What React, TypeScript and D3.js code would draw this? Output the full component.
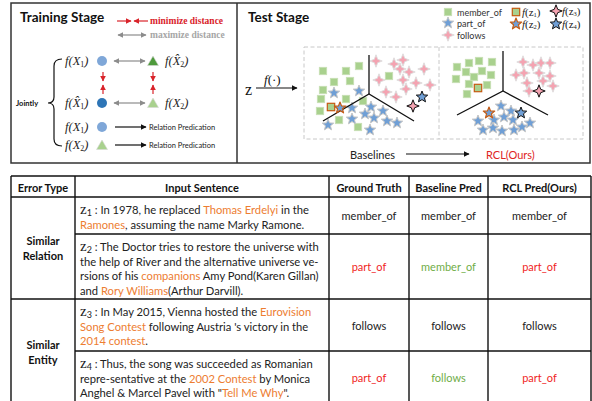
import React from "react";
import * as d3 from "d3";

// ---- embedding points, panel units (origin = top-left of each dashed panel) ----
const baseMember = [[19,24],[42,24],[55,19],[30,35],[46,34],[19,43],[17,52],[42,52],[16,64],[35,73],[54,80],[59,54],[85,29]];
const basePartOf = [[30,46],[55,44],[48,61],[67,60],[79,64],[61,67],[48,72],[70,71],[83,74],[93,76],[24,78],[66,83]];
const baseFollows = [[72,14],[90,17],[99,13],[96,22],[105,25],[120,22],[75,33],[99,33],[112,36],[126,38],[82,45],[102,42],[92,50]];
const baseQueries = [[27,60],[36,61],[109,59],[118,50]]; // z1..z4
const baseAxes = [[65,47],[65,8],[19,74],[110,74]]; // center, top, left, right

const rclMember = [[18,20],[30,16],[40,14],[53,15],[27,25],[43,24],[52,28],[17,32],[35,30],[30,37],[48,38],[28,47]];
const rclPartOf = [[62,59],[72,64],[39,74],[55,73],[65,70],[74,73],[91,76],[44,83],[54,81],[63,84],[75,83],[83,80]];
const rclFollows = [[84,15],[94,18],[102,16],[111,16],[77,28],[85,26],[100,26],[111,29],[88,36],[104,34],[114,39],[90,44]];
const rclQueries = [[39,41],[50,66],[100,44],[82,66]];
const rclAxes = [[64,44],[64,4],[18,68],[109,68]];

// ---- table ----
const headers = ["Error Type", "Input Sentence", "Ground Truth", "Baseline Pred", "RCL Pred(Ours)"];
const errorTypes = [["Similar", "Relation"], ["Similar", "Entity"]];
const groundTruth = ["member_of", "part_of", "follows", "part_of"];
const baselinePred = ["member_of", "member_of", "follows", "follows"];
const rclPred = ["member_of", "part_of", "follows", "part_of"];
// [text, highlighted]
const sentences: [string, number][][][] = [
  [
    [["In 1978, he replaced ", 0], ["Thomas Erdelyi", 1], [" in the", 0]],
    [["Ramones", 1], [", assuming the name Marky Ramone.", 0]],
  ],
  [
    [["The Doctor tries to restore the universe with", 0]],
    [["the help of River and the alternative universe ve-", 0]],
    [["rsions of his ", 0], ["companions", 1], [" Amy Pond(Karen Gillan)", 0]],
    [["and ", 0], ["Rory Williams", 1], ["(Arthur Darvill).", 0]],
  ],
  [
    [["In May 2015, Vienna hosted the ", 0], ["Eurovision", 1]],
    [["Song Contest", 1], [" following Austria 's victory in the", 0]],
    [["2014 contest", 1], [".", 0]],
  ],
  [
    [["Thus, the song was succeeded as Romanian", 0]],
    [["repre-sentative at the ", 0], ["2002 Contest", 1], [" by Monica", 0]],
    [["Anghel & Marcel Pavel with \"", 0], ["Tell Me Why", 1], ["\".", 0]],
  ],
];

const GREEN = "#a9d18e";
const BLUE = "#6f9fd6";
const PINK = "#f4a3b1";
const ORANGE = "#ed7d31";
const RED = "#f01e1e";
const OKGREEN = "#70ad47";
const SANS = "Lato, 'Open Sans', sans-serif";
const SERIF = "'Liberation Serif', 'DejaVu Serif', serif";

function starPath(cx: number, cy: number, R: number, r: number, n: number) {
  const p = d3.path();
  for (let i = 0; i < n * 2; i++) {
    const a = -Math.PI / 2 + (i * Math.PI) / n;
    const rad = i % 2 === 0 ? R : r;
    const x = cx + rad * Math.cos(a), y = cy + rad * Math.sin(a);
    if (i === 0) p.moveTo(x, y); else p.lineTo(x, y);
  }
  p.closePath();
  return p.toString();
}

const Square = ({ x, y, stroke = "#c8e0b6", sw = 0.8 }: any) => (
  <rect x={x - 3.7} y={y - 3.7} width={7.4} height={7.4} fill={GREEN} stroke={stroke} strokeWidth={sw} />
);
const Star5 = ({ x, y, stroke = "#c4c4c4", sw = 1 }: any) => (
  <path d={starPath(x, y, 6, 2.6, 5)} fill={BLUE} stroke={stroke} strokeWidth={sw} strokeLinejoin="round" />
);
const Star4 = ({ x, y, stroke = "#dedede", sw = 1 }: any) => (
  <path d={starPath(x, y, 6.2, 2.4, 4)} fill={PINK} stroke={stroke} strokeWidth={sw} strokeLinejoin="round" />
);

const Scatter = ({ xs, ys, member, partOf, follows, queries, axes }: any) => {
  const [c, t, l, r] = axes;
  const line = d3.line<number[]>().x((d) => xs(d[0])).y((d) => ys(d[1]));
  return (
    <g>
      {member.map((d: number[], i: number) => <Square key={"m" + i} x={xs(d[0])} y={ys(d[1])} />)}
      {follows.map((d: number[], i: number) => <Star4 key={"f" + i} x={xs(d[0])} y={ys(d[1])} />)}
      {partOf.map((d: number[], i: number) => <Star5 key={"p" + i} x={xs(d[0])} y={ys(d[1])} />)}
      <path d={line([t, c]) || ""} stroke="#111" strokeWidth={1.3} fill="none" />
      <path d={line([l, c, r]) || ""} stroke="#111" strokeWidth={1.3} fill="none" />
      <Square x={xs(queries[0][0])} y={ys(queries[0][1])} stroke="#c55a11" sw={1.2} />
      <Star5 x={xs(queries[1][0])} y={ys(queries[1][1])} stroke="#c55a11" sw={1.2} />
      <Star4 x={xs(queries[2][0])} y={ys(queries[2][1])} stroke="#111" sw={1} />
      <Star5 x={xs(queries[3][0])} y={ys(queries[3][1])} stroke="#111" sw={1} />
    </g>
  );
};

const FX = ({ x, y, sub, hat = false, size = 12.5, fs = 8 }: any) => (
  <text x={x} y={y} fontFamily={SERIF} fontStyle="italic" fontSize={size} fill="#222" dominantBaseline="central">
    f(<tspan>{hat ? "X\u0302" : "X"}</tspan>
    <tspan dy={2.5} fontSize={fs} fontStyle="normal">{sub}</tspan>
    <tspan dy={-2.5}>)</tspan>
  </text>
);

const FZ = ({ x, y, sub }: any) => (
  <text x={x} y={y} fontFamily={SERIF} fontSize={11} fill="#222" dominantBaseline="central">
    <tspan fontStyle="italic">f</tspan>(z<tspan dy={2} fontSize={6.5}>{sub}</tspan><tspan dy={-2}>)</tspan>
  </text>
);

const Tri = ({ x, y, fill }: any) => (
  <path d={`M${x},${y - 5} L${x + 5.5},${y + 4.5} L${x - 5.5},${y + 4.5} Z`} fill={fill} stroke="#d6d6d6" strokeWidth={0.6} />
);

export default function App() {
  const y = d3.scaleLinear().domain([0, 92]).range([47, 139]);
  const xL = d3.scaleLinear().domain([0, 135]).range([304, 439]);
  const xR = d3.scaleLinear().domain([0, 144]).range([439, 583]);

  const colX = [11, 75, 329, 409, 488, 591];
  const rowTop = [197, 234, 299, 351, 404];
  const lineH = 14.7;
  const mid = (a: number, b: number) => (a + b) / 2;

  const predColor = (row: number, val: string, isBaseline: boolean) => {
    if (isBaseline) return val !== groundTruth[row] ? OKGREEN : "#222";
    return groundTruth[row] !== baselinePred[row] ? RED : "#222";
  };

  return (
    <svg width={592} height={401} style={{ position: "absolute", left: 0, top: 0, background: "#fff" }}>
      <defs>
        {[["red", "#d9232a"], ["gray", "#8c8c8c"], ["black", "#111"]].map(([id, c]) => (
          <marker key={id} id={"ah-" + id} viewBox="0 0 10 10" refX={9} refY={5} markerWidth={5} markerHeight={5} orient="auto-start-reverse">
            <path d="M0,0 L10,5 L0,10 Z" fill={c} />
          </marker>
        ))}
      </defs>

      {/* ---------- top panel frame ---------- */}
      <rect x={11} y={3} width={579} height={160} fill="none" stroke="#333" strokeWidth={1.5} />
      <line x1={237} y1={3} x2={237} y2={163} stroke="#333" strokeWidth={1.5} />

      {/* ---------- Training stage ---------- */}
      <text x={20} y={22} fontFamily={SANS} fontWeight="bold" fontSize={13.5} fill="#111">Training Stage</text>
      <line x1={117} y1={21} x2={131} y2={21} stroke="#d9232a" strokeWidth={1.2} markerEnd="url(#ah-red)" />
      <line x1={148} y1={21} x2={134} y2={21} stroke="#d9232a" strokeWidth={1.2} markerEnd="url(#ah-red)" />
      <text x={150} y={21} fontFamily={SERIF} fontWeight="bold" fontSize={9.5} fill="#d9232a" dominantBaseline="central">minimize distance</text>
      <line x1={118} y1={35} x2={146} y2={35} stroke="#8c8c8c" strokeWidth={1.2} markerStart="url(#ah-gray)" markerEnd="url(#ah-gray)" />
      <text x={150} y={35} fontFamily={SERIF} fontWeight="bold" fontSize={9.5} fill="#a6a6a6" dominantBaseline="central">maximize distance</text>

      <FX x={65} y={61} sub="1" />
      <circle cx={102} cy={61} r={5} fill="#7fa7d8" />
      <line x1={114} y1={61} x2={145} y2={61} stroke="#8c8c8c" strokeWidth={1.2} markerStart="url(#ah-gray)" markerEnd="url(#ah-gray)" />
      <Tri x={153} y={61} fill="#4e9a3c" />
      <FX x={165} y={61} sub="2" hat />

      {[103, 153].map((x) => (
        <g key={x}>
          <line x1={x} y1={72} x2={x} y2={81} stroke="#d9232a" strokeWidth={1.2} markerEnd="url(#ah-red)" />
          <line x1={x} y1={94} x2={x} y2={85} stroke="#d9232a" strokeWidth={1.2} markerEnd="url(#ah-red)" />
        </g>
      ))}

      <FX x={65} y={103} sub="1" hat />
      <circle cx={102} cy={103} r={5} fill="#2e75b6" />
      <line x1={114} y1={103} x2={145} y2={103} stroke="#8c8c8c" strokeWidth={1.2} markerStart="url(#ah-gray)" markerEnd="url(#ah-gray)" />
      <Tri x={153} y={103} fill={GREEN} />
      <FX x={165} y={103} sub="2" />

      <FX x={65} y={127} sub="1" />
      <circle cx={102} cy={127} r={5} fill="#7fa7d8" />
      <line x1={115} y1={127} x2={146} y2={127} stroke="#111" strokeWidth={1.2} markerEnd="url(#ah-black)" />
      <text x={149} y={127} fontFamily={SANS} fontSize={7.5} fill="#222" dominantBaseline="central">Relation Predication</text>

      <FX x={65} y={145} sub="2" />
      <Tri x={102} y={145} fill={GREEN} />
      <line x1={115} y1={145} x2={146} y2={145} stroke="#111" strokeWidth={1.2} markerEnd="url(#ah-black)" />
      <text x={149} y={145} fontFamily={SANS} fontSize={7.5} fill="#222" dominantBaseline="central">Relation Predication</text>

      <path d="M62,59 Q54,59 54,66 L54,97 Q54,103 48,103 Q54,103 54,109 L54,139 Q54,146 62,146" fill="none" stroke="#111" strokeWidth={1.2} />
      <text x={16} y={103} fontFamily={SANS} fontWeight="bold" fontSize={7.5} fill="#111" dominantBaseline="central">Jointly</text>

      {/* ---------- Test stage ---------- */}
      <text x={248} y={22} fontFamily={SANS} fontWeight="bold" fontSize={13.5} fill="#111">Test Stage</text>

      <Square x={448} y={12} />
      <text x={457} y={12} fontFamily={SANS} fontSize={9} fill="#333" dominantBaseline="central">member_of</text>
      <Star5 x={448} y={23} />
      <text x={457} y={23} fontFamily={SANS} fontSize={9} fill="#333" dominantBaseline="central">part_of</text>
      <Star4 x={448} y={35} />
      <text x={457} y={35} fontFamily={SANS} fontSize={9} fill="#333" dominantBaseline="central">follows</text>
      <Square x={516} y={12} stroke="#c55a11" sw={1.2} />
      <FZ x={522} y={12} sub="1" />
      <Star5 x={516} y={24} stroke="#c55a11" sw={1.2} />
      <FZ x={522} y={24} sub="2" />
      <Star4 x={556} y={11} stroke="#111" />
      <FZ x={562} y={11} sub="3" />
      <Star5 x={556} y={24} stroke="#111" />
      <FZ x={562} y={24} sub="4" />

      <text x={245} y={89} fontFamily={SERIF} fontSize={16} fill="#111" dominantBaseline="central">z</text>
      <text x={264} y={79} fontFamily={SERIF} fontSize={13} fill="#111" dominantBaseline="central">
        <tspan fontStyle="italic">f</tspan>(·)
      </text>
      <line x1={256} y1={88} x2={297} y2={88} stroke="#111" strokeWidth={1.2} markerEnd="url(#ah-black)" />

      <rect x={304} y={47} width={279} height={92} fill="none" stroke="#c8c8c8" strokeWidth={1} strokeDasharray="4,2.5" />
      <line x1={439} y1={47} x2={439} y2={139} stroke="#c8c8c8" strokeWidth={1} strokeDasharray="4,2.5" />

      <Scatter xs={xL} ys={y} member={baseMember} partOf={basePartOf} follows={baseFollows} queries={baseQueries} axes={baseAxes} />
      <Scatter xs={xR} ys={y} member={rclMember} partOf={rclPartOf} follows={rclFollows} queries={rclQueries} axes={rclAxes} />

      <text x={350} y={154} fontFamily={SANS} fontSize={11} fill="#222" dominantBaseline="central">Baselines</text>
      <line x1={406} y1={154} x2={469} y2={154} stroke="#111" strokeWidth={1.2} markerEnd="url(#ah-black)" />
      <text x={486} y={154} fontFamily={SANS} fontSize={11} fill="#e02424" dominantBaseline="central">RCL(Ours)</text>

      {/* ---------- Table ---------- */}
      <g stroke="#111" strokeWidth={1.4}>
        <line x1={11} y1={176} x2={591} y2={176} />
        <line x1={11} y1={197} x2={591} y2={197} />
        <line x1={75} y1={234} x2={591} y2={234} />
        <line x1={11} y1={299} x2={591} y2={299} />
        <line x1={75} y1={351} x2={591} y2={351} />
        {colX.map((x) => <line key={x} x1={x} y1={176} x2={x} y2={404} />)}
      </g>

      {headers.map((h, i) => (
        <text key={h} x={mid(colX[i], colX[i + 1])} y={187} textAnchor="middle" fontFamily={SANS} fontWeight="bold" fontSize={11} fill="#111" dominantBaseline="central">{h}</text>
      ))}

      {errorTypes.map((lines, g) => {
        const cy = mid(rowTop[g * 2], rowTop[g * 2 + 2]);
        return lines.map((s, k) => (
          <text key={g + s + k} x={43} y={cy + (k - 0.5) * 15} textAnchor="middle" fontFamily={SANS} fontWeight="bold" fontSize={11} fill="#111" dominantBaseline="central">{s}</text>
        ));
      })}

      {sentences.map((lines, r) => (
        <g key={"s" + r}>
          {lines.map((segs, li) => {
            const ly = rowTop[r] + 12 + li * lineH;
            return (
              <text key={li} x={80} y={ly} fontFamily={SANS} fontSize={11.2} fill="#222" dominantBaseline="central">
                {li === 0 && (
                  <>
                    <tspan fontFamily={SERIF} fontSize={15}>z</tspan>
                    <tspan fontSize={9} dy={2.5}>{r + 1}</tspan>
                    <tspan dy={-2.5}>{" : "}</tspan>
                  </>
                )}
                {segs.map(([t, hl], si) => (
                  <tspan key={si} fill={hl ? ORANGE : "#222"}>{t}</tspan>
                ))}
              </text>
            );
          })}
        </g>
      ))}

      {groundTruth.map((v, r) => {
        const cy = mid(rowTop[r], rowTop[r + 1]);
        return (
          <g key={"p" + r} fontFamily={SANS} fontSize={11} textAnchor="middle">
            <text x={mid(colX[2], colX[3])} y={cy} dominantBaseline="central" fill={predColor(r, v, false)}>{v}</text>
            <text x={mid(colX[3], colX[4])} y={cy} dominantBaseline="central" fill={predColor(r, baselinePred[r], true)}>{baselinePred[r]}</text>
            <text x={mid(colX[4], colX[5])} y={cy} dominantBaseline="central" fill={predColor(r, rclPred[r], false)}>{rclPred[r]}</text>
          </g>
        );
      })}
    </svg>
  );
}
